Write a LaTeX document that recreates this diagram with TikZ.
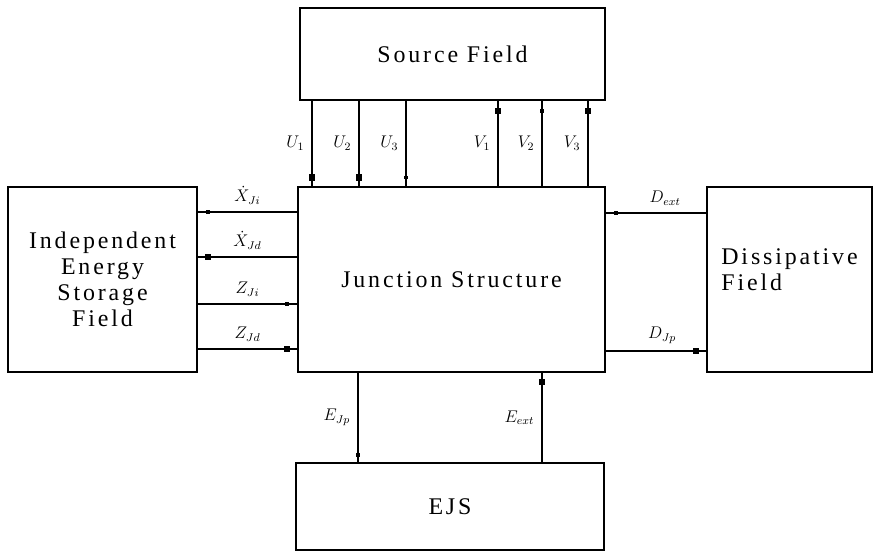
\documentclass[tikz,border=0pt]{standalone}
\usepackage{fontspec}
\setmainfont{Liberation Serif}
\tikzset{
  field/.style={draw, rectangle, line width=1.1pt, font=\fontsize{17}{18.5}\selectfont\addfontfeature{LetterSpace=12}},
  bond/.style={line width=1.1pt},
  sq/.style={fill, rectangle, inner sep=0pt, minimum size=4.5pt},
  hsq/.style={fill, rectangle, inner sep=0pt, minimum size=2.6pt},
  lab/.style={font=\fontsize{12}{14}\selectfont, inner sep=5pt}
}
\begin{document}
\begin{tikzpicture}[x=0.025cm,y=-0.025cm]
\useasboundingbox (0,0) rectangle (879,557);
\node[field, minimum width=7.625cm, minimum height=2.3cm] (src) at (452.5,54) {Source Field};
\node[field, minimum width=7.675cm, minimum height=4.625cm] (junc) at (451.5,279.5) {Junction Structure};
\node[field, minimum width=4.725cm, minimum height=4.625cm, align=center] (ies) at (102.5,279.5) {Independent\\Energy\\Storage\\Field};
\node[field, minimum width=4.125cm, minimum height=4.625cm, align=left, text depth=14pt] (diss) at (789.5,279.5) {Dissipative\\Field};
\node[field, minimum width=7.7cm, minimum height=2.175cm] (ejs) at (450,506.5) {EJS};

% source field <-> junction
\draw[bond] (src.south -| 312,0) -- (junc.north -| 312,0) node[midway,left,lab] {$U_1$} node[sq,pos=.9] {};
\draw[bond] (src.south -| 359,0) -- (junc.north -| 359,0) node[midway,left,lab] {$U_2$} node[sq,pos=.9] {};
\draw[bond] (src.south -| 406,0) -- (junc.north -| 406,0) node[midway,left,lab] {$U_3$} node[hsq,pos=.9] {};
\draw[bond] (src.south -| 498,0) -- (junc.north -| 498,0) node[midway,left,lab] {$V_1$} node[sq,pos=.12] {};
\draw[bond] (src.south -| 542,0) -- (junc.north -| 542,0) node[midway,left,lab] {$V_2$} node[hsq,pos=.12] {};
\draw[bond] (src.south -| 588,0) -- (junc.north -| 588,0) node[midway,left,lab] {$V_3$} node[sq,pos=.12] {};

% storage field <-> junction
\draw[bond] (junc.west |- 0,212) -- (ies.east |- 0,212) node[midway,above,lab] {$\dot{X}_{Ji}$} node[hsq,pos=.9] {};
\draw[bond] (junc.west |- 0,257) -- (ies.east |- 0,257) node[midway,above,lab] {$\dot{X}_{Jd}$} node[sq,pos=.9] {};
\draw[bond] (junc.west |- 0,304) -- (ies.east |- 0,304) node[midway,above,lab] {$Z_{Ji}$} node[hsq,pos=.1] {};
\draw[bond] (junc.west |- 0,349) -- (ies.east |- 0,349) node[midway,above,lab] {$Z_{Jd}$} node[sq,pos=.1] {};

% dissipative field <-> junction
\draw[bond] (junc.east |- 0,213) -- (diss.west |- 0,213) node[pos=.59,above,lab] {$D_{ext}$} node[hsq,pos=.1] {};
\draw[bond] (junc.east |- 0,351) -- (diss.west |- 0,351) node[pos=.56,above,lab] {$D_{Jp}$} node[sq,pos=.9] {};

% junction <-> EJS
\draw[bond] (junc.south -| 358,0) -- (ejs.north -| 358,0) node[midway,left,lab] {$E_{Jp}$} node[hsq,pos=.92] {};
\draw[bond] (junc.south -| 542,0) -- (ejs.north -| 542,0) node[pos=.5,left,lab] {$E_{ext}$} node[sq,pos=.1] {};
\end{tikzpicture}
\end{document}
